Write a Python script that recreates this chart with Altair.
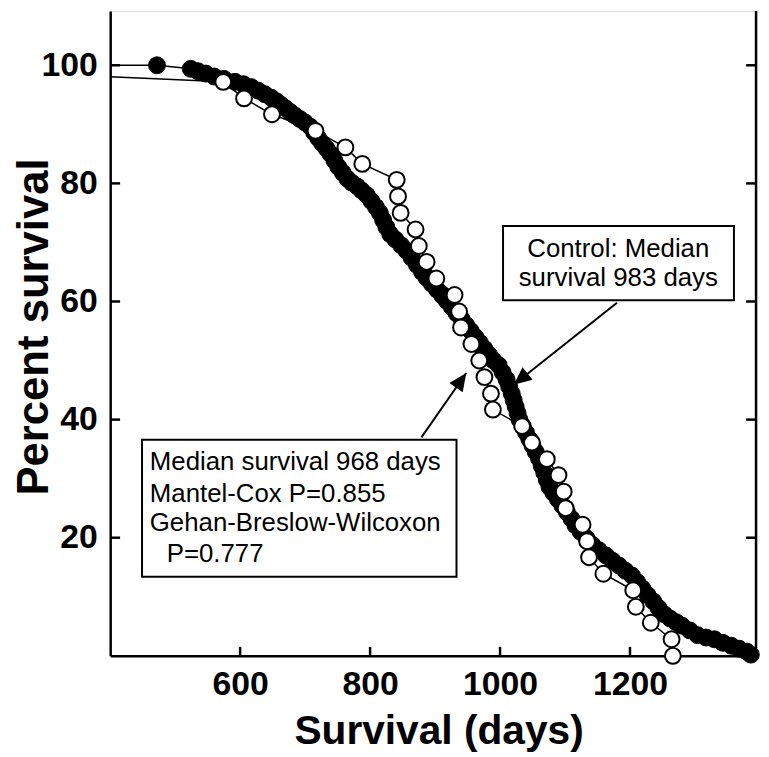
import altair as alt
import pandas as pd

# ---------------- data ----------------
control_days = [472, 524, 535, 547, 560, 575, 592, 605, 617, 628,
                638, 648, 656, 663, 670, 677, 684, 692, 700, 708,
                714, 720, 726, 733, 739, 745, 751, 758, 765, 772,
                780, 787, 795, 802, 809, 815, 820, 825, 831, 839,
                848, 856, 864, 872, 880, 887, 895, 903, 911, 918,
                926, 933, 941, 948, 955, 962, 969, 976, 983, 990,
                998, 1004, 1010, 1014, 1018, 1021, 1024, 1027, 1030, 1035,
                1040, 1045, 1050, 1055, 1060, 1064, 1068, 1072, 1076, 1082,
                1089, 1096, 1103, 1110, 1116, 1124, 1133, 1142, 1152, 1163,
                1173, 1183, 1193, 1203, 1211, 1219, 1227, 1236, 1244, 1253,
                1262, 1271, 1280, 1292, 1304, 1317, 1330, 1343, 1356, 1368,
                1380, 1386]
control_pct = [100.0, 99.4, 99.0, 98.6, 98.1, 97.7, 97.2, 96.8, 96.3, 95.7,
               95.1, 94.5, 93.9, 93.3, 92.7, 92.1, 91.5, 90.9, 90.3, 89.6,
               88.6, 87.7, 86.8, 85.9, 85.0, 83.9, 82.8, 81.8, 80.8, 80.1,
               79.5, 78.8, 78.0, 77.0, 76.0, 75.0, 73.8, 72.6, 71.4, 70.5,
               69.5, 68.6, 67.4, 66.2, 65.0, 64.0, 63.0, 62.0, 61.0, 60.1,
               59.0, 58.0, 57.0, 56.0, 55.0, 54.0, 53.0, 52.0, 51.0, 50.0,
               49.2, 48.0, 46.8, 45.6, 44.4, 43.3, 42.2, 41.1, 40.0, 38.9,
               37.8, 36.7, 35.6, 34.5, 33.4, 32.2, 31.0, 29.8, 28.6, 27.6,
               26.5, 25.4, 24.3, 23.2, 22.1, 21.0, 19.9, 18.8, 17.9, 17.0,
               16.1, 15.3, 14.4, 13.6, 12.5, 11.4, 10.3, 9.2, 8.1, 7.0,
               6.3, 5.7, 5.1, 4.3, 3.5, 3.1, 2.8, 2.2, 1.7, 1.2,
               0.7, 0.2]

treated_days = [574, 606, 649, 716, 762, 788, 841, 843, 847, 870,
                875, 887, 902, 930, 937, 940, 956, 968, 976, 986,
                989, 1034, 1049, 1072, 1090, 1098, 1101, 1127, 1134, 1137,
                1159, 1205, 1209, 1232, 1264, 1266]
treated_pct = [97.2, 94.4, 91.7, 88.9, 86.1, 83.3, 80.6, 77.8, 75.0, 72.2,
               69.4, 66.7, 63.9, 61.1, 58.3, 55.6, 52.8, 50.0, 47.2, 44.4,
               41.7, 38.9, 36.1, 33.3, 30.6, 27.8, 25.0, 22.2, 19.4, 16.7,
               13.9, 11.1, 8.3, 5.6, 2.8, 0.0]

start_day = 0
start_pct = 100.0

x_ticks = [600, 800, 1000, 1200]
y_ticks = [20, 40, 60, 80, 100]

control_label = ["Control: Median", "survival 983 days"]
treated_label = ["Median survival 968 days", "Mantel-Cox P=0.855",
                 "Gehan-Breslow-Wilcoxon", "P=0.777"]

# ---------------- layout ----------------
W, H = 651, 650
FONT = "Liberation Sans"
x_scale = alt.Scale(domain=[400, 1394], nice=False, zero=False)
y_scale = alt.Scale(domain=[0, 109.2], nice=False, zero=False)

X_AX = alt.Axis(values=x_ticks, format="d", title="Survival (days)", grid=False, ticks=False, tickSize=0,
                domain=True, domainColor="black", domainWidth=2.5,
                labelFont=FONT, labelFontSize=34, labelFontWeight="bold", labelColor="black",
                labelPadding=39, labelBaseline="alphabetic", labelFlush=False, labelOverlap=False,
                titleFont=FONT, titleFontSize=41, titleFontWeight="bold", titleColor="black",
                titleX=331, titleY=88, titleBaseline="alphabetic")
Y_AX = alt.Axis(values=y_ticks, format="d", title="Percent survival", grid=False, ticks=False, tickSize=0,
                domain=True, domainColor="black", domainWidth=2.5,
                labelFont=FONT, labelFontSize=34, labelFontWeight="bold", labelColor="black",
                labelPadding=13, labelFlush=False, labelOverlap=False,
                titleFont=FONT, titleFontSize=44, titleFontWeight="bold", titleColor="black",
                titleX=-63, titleY=318, titleBaseline="alphabetic", titleAngle=270)


def X(f):
    return alt.X(f, scale=x_scale, axis=X_AX)


def Y(f):
    return alt.Y(f, scale=y_scale, axis=Y_AX)


ctrl = pd.DataFrame({"day": control_days, "pct": control_pct})
trt = pd.DataFrame({"day": treated_days, "pct": treated_pct})
ctrl_line = pd.DataFrame({"day": [start_day] + control_days, "pct": [start_pct] + control_pct})
trt_line = pd.DataFrame({"day": [start_day] + treated_days, "pct": [start_pct] + treated_pct})

l_ctrl = alt.Chart(ctrl_line).mark_line(color="black", strokeWidth=1.5, clip=True).encode(
    x=X("day:Q"), y=Y("pct:Q"), order="day:Q")
p_ctrl = alt.Chart(ctrl).mark_point(shape="circle", filled=True, fill="black", stroke="black",
                                     strokeWidth=1, size=290, opacity=1).encode(x=X("day:Q"), y=Y("pct:Q"))
l_trt = alt.Chart(trt_line).mark_line(color="black", strokeWidth=1.5, clip=True).encode(
    x=X("day:Q"), y=Y("pct:Q"), order="day:Q")
p_trt = alt.Chart(trt).mark_point(shape="circle", filled=True, fill="white", stroke="black",
                                   strokeWidth=2, size=256, opacity=1).encode(x=X("day:Q"), y=Y("pct:Q"))

# frame: inward ticks and right edge
yt = pd.DataFrame({"pct": y_ticks})
xt = pd.DataFrame({"day": x_ticks})
left_ticks = alt.Chart(yt).mark_rule(color="black", strokeWidth=2.5).encode(
    y=Y("pct:Q"), x=alt.value(0), x2=alt.value(10))
right_ticks = alt.Chart(yt).mark_rule(color="black", strokeWidth=2.5).encode(
    y=Y("pct:Q"), x=alt.value(W - 10), x2=alt.value(W))
bottom_ticks = alt.Chart(xt).mark_rule(color="black", strokeWidth=2.5).encode(
    x=X("day:Q"), y=alt.value(H), y2=alt.value(H - 9))
right_line = alt.Chart(pd.DataFrame({"k": [0]})).mark_rule(color="black", strokeWidth=2.5).encode(
    x=alt.value(W), y=alt.value(0), y2=alt.value(H))

# annotations
boxes = pd.DataFrame({"x1": [1004.6, 449.0], "x2": [1360.0, 933.0],
                      "y1": [72.8, 36.6], "y2": [60.2, 13.4]})
box_layer = alt.Chart(boxes).mark_rect(fill="white", stroke="black", strokeWidth=2).encode(
    x=X("x1:Q"), x2="x2:Q", y=Y("y1:Q"), y2="y2:Q")

ctext = pd.DataFrame({"day": [1182, 1182], "pct": [68.9, 63.9], "label": control_label})
ctext_layer = alt.Chart(ctext).mark_text(font=FONT, fontSize=26, color="black", align="center",
                                         baseline="middle").encode(x=X("day:Q"), y=Y("pct:Q"), text="label:N")
ttext = pd.DataFrame({"day": [461, 461, 461, 487], "pct": [32.8, 27.4, 22.4, 17.3], "label": treated_label})
ttext_layer = alt.Chart(ttext).mark_text(font=FONT, fontSize=26, color="black", align="left",
                                         baseline="middle").encode(x=X("day:Q"), y=Y("pct:Q"), text="label:N")

arrows = pd.DataFrame({"x1": [1180, 879], "y1": [59.8, 37.0], "x2": [1021, 948], "y2": [45.9, 47.9],
                       "ang": [231, 34.7]})
arrow_lines = alt.Chart(arrows).mark_rule(color="black", strokeWidth=2).encode(
    x=X("x1:Q"), y=Y("y1:Q"), x2="x2:Q", y2="y2:Q")
arrow_heads = alt.Chart(arrows).mark_point(shape="M0,0L-0.45,1L0.45,1Z", filled=True, fill="black",
                                          strokeWidth=0, size=1296, opacity=1).encode(
    x=X("x2:Q"), y=Y("y2:Q"), angle=alt.Angle("ang:Q", scale=None))

chart = alt.layer(
    l_ctrl, p_ctrl, l_trt, p_trt,
    left_ticks, right_ticks, bottom_ticks, right_line,
    box_layer, ctext_layer, ttext_layer, arrow_lines, arrow_heads,
).properties(
    width=W, height=H,
    autosize=alt.AutoSizeParams(type="none"),
    padding={"left": 103, "top": 0, "right": 5, "bottom": 98},
    background="white",
).configure_view(stroke=None).configure(font=FONT)

chart.save("out.html", embed_options={"renderer": "svg", "actions": False})
